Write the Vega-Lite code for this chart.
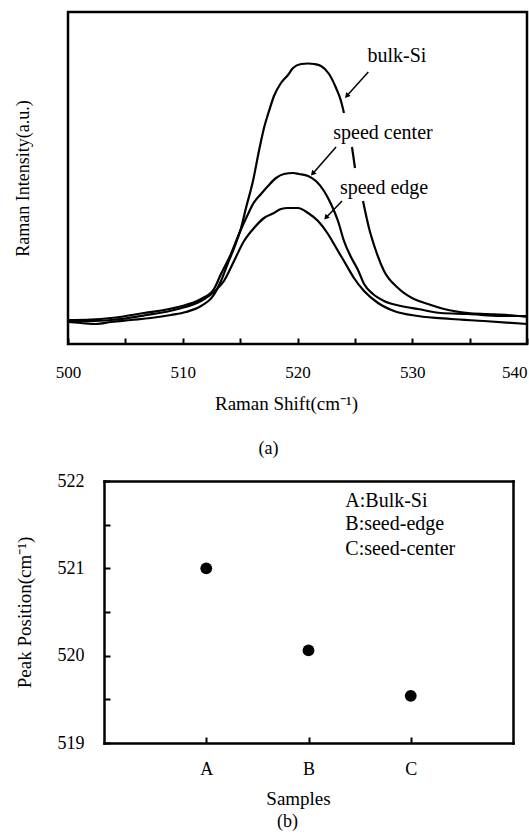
{
  "$schema": "https://vega.github.io/schema/vega-lite/v6.json",
  "padding": {"left": 12, "top": 10, "right": 0, "bottom": 0},
  "background": "white",
  "spacing": 12,
  "datasets": {
    "spectra": [
      {"seg": "bulk1", "shift": 500.0, "intensity": 22},
      {"seg": "bulk1", "shift": 501.13, "intensity": 21},
      {"seg": "bulk1", "shift": 502.44, "intensity": 20},
      {"seg": "bulk1", "shift": 503.75, "intensity": 22},
      {"seg": "bulk1", "shift": 505.49, "intensity": 24},
      {"seg": "bulk1", "shift": 507.23, "intensity": 26},
      {"seg": "bulk1", "shift": 508.98, "intensity": 29},
      {"seg": "bulk1", "shift": 510.28, "intensity": 32},
      {"seg": "bulk1", "shift": 511.59, "intensity": 38},
      {"seg": "bulk1", "shift": 512.64, "intensity": 48},
      {"seg": "bulk1", "shift": 513.33, "intensity": 63},
      {"seg": "bulk1", "shift": 513.94, "intensity": 81},
      {"seg": "bulk1", "shift": 514.47, "intensity": 96},
      {"seg": "bulk1", "shift": 515.08, "intensity": 116},
      {"seg": "bulk1", "shift": 515.51, "intensity": 136},
      {"seg": "bulk1", "shift": 516.12, "intensity": 163},
      {"seg": "bulk1", "shift": 516.64, "intensity": 193},
      {"seg": "bulk1", "shift": 517.08, "intensity": 216},
      {"seg": "bulk1", "shift": 517.52, "intensity": 233},
      {"seg": "bulk1", "shift": 517.95, "intensity": 248},
      {"seg": "bulk1", "shift": 518.56, "intensity": 261},
      {"seg": "bulk1", "shift": 519.17, "intensity": 269},
      {"seg": "bulk1", "shift": 519.61, "intensity": 276},
      {"seg": "bulk1", "shift": 520.31, "intensity": 280},
      {"seg": "bulk1", "shift": 520.92, "intensity": 280.5},
      {"seg": "bulk1", "shift": 521.44, "intensity": 280},
      {"seg": "bulk1", "shift": 522.05, "intensity": 278},
      {"seg": "bulk1", "shift": 522.75, "intensity": 270},
      {"seg": "bulk1", "shift": 523.36, "intensity": 256},
      {"seg": "bulk1", "shift": 523.79, "intensity": 243},
      {"seg": "bulk1", "shift": 524.05, "intensity": 231},
      {"seg": "bulk2", "shift": 524.75, "intensity": 197},
      {"seg": "bulk2", "shift": 525.01, "intensity": 176},
      {"seg": "bulk3", "shift": 525.71, "intensity": 143},
      {"seg": "bulk3", "shift": 526.23, "intensity": 116},
      {"seg": "bulk3", "shift": 526.84, "intensity": 93},
      {"seg": "bulk3", "shift": 527.54, "intensity": 73},
      {"seg": "bulk3", "shift": 528.76, "intensity": 56},
      {"seg": "bulk3", "shift": 530.15, "intensity": 45},
      {"seg": "bulk3", "shift": 531.37, "intensity": 40},
      {"seg": "bulk3", "shift": 532.77, "intensity": 35},
      {"seg": "bulk3", "shift": 534.86, "intensity": 31},
      {"seg": "bulk3", "shift": 536.6, "intensity": 30},
      {"seg": "bulk3", "shift": 538.34, "intensity": 29},
      {"seg": "bulk3", "shift": 540.0, "intensity": 27},
      {"seg": "center", "shift": 500.0, "intensity": 24},
      {"seg": "center", "shift": 502.0, "intensity": 24.5},
      {"seg": "center", "shift": 503.75, "intensity": 26},
      {"seg": "center", "shift": 506.62, "intensity": 31},
      {"seg": "center", "shift": 509.59, "intensity": 37},
      {"seg": "center", "shift": 511.59, "intensity": 45},
      {"seg": "center", "shift": 512.72, "intensity": 55},
      {"seg": "center", "shift": 513.33, "intensity": 70},
      {"seg": "center", "shift": 514.2, "intensity": 90},
      {"seg": "center", "shift": 514.9, "intensity": 110},
      {"seg": "center", "shift": 515.69, "intensity": 130},
      {"seg": "center", "shift": 516.12, "intensity": 140},
      {"seg": "center", "shift": 516.82, "intensity": 150},
      {"seg": "center", "shift": 517.43, "intensity": 158},
      {"seg": "center", "shift": 518.13, "intensity": 166},
      {"seg": "center", "shift": 518.82, "intensity": 170},
      {"seg": "center", "shift": 519.61, "intensity": 171},
      {"seg": "center", "shift": 520.13, "intensity": 170},
      {"seg": "center", "shift": 520.92, "intensity": 168},
      {"seg": "center", "shift": 521.61, "intensity": 163},
      {"seg": "center", "shift": 522.31, "intensity": 153},
      {"seg": "center", "shift": 522.92, "intensity": 140},
      {"seg": "center", "shift": 523.53, "intensity": 123},
      {"seg": "center", "shift": 524.05, "intensity": 103},
      {"seg": "center", "shift": 524.66, "intensity": 87},
      {"seg": "center", "shift": 525.27, "intensity": 74},
      {"seg": "center", "shift": 525.8, "intensity": 60},
      {"seg": "center", "shift": 526.58, "intensity": 50},
      {"seg": "center", "shift": 527.54, "intensity": 43},
      {"seg": "center", "shift": 529.02, "intensity": 38},
      {"seg": "center", "shift": 530.5, "intensity": 35},
      {"seg": "center", "shift": 532.51, "intensity": 31},
      {"seg": "center", "shift": 534.86, "intensity": 30},
      {"seg": "center", "shift": 537.73, "intensity": 28},
      {"seg": "center", "shift": 540.0, "intensity": 28},
      {"seg": "edge", "shift": 500.0, "intensity": 23},
      {"seg": "edge", "shift": 502.0, "intensity": 23},
      {"seg": "edge", "shift": 503.75, "intensity": 24},
      {"seg": "edge", "shift": 506.62, "intensity": 28.5},
      {"seg": "edge", "shift": 509.59, "intensity": 35},
      {"seg": "edge", "shift": 511.59, "intensity": 43},
      {"seg": "edge", "shift": 512.72, "intensity": 52},
      {"seg": "edge", "shift": 513.59, "intensity": 63},
      {"seg": "edge", "shift": 514.47, "intensity": 83},
      {"seg": "edge", "shift": 515.34, "intensity": 103},
      {"seg": "edge", "shift": 516.21, "intensity": 116},
      {"seg": "edge", "shift": 517.08, "intensity": 126},
      {"seg": "edge", "shift": 517.95, "intensity": 131},
      {"seg": "edge", "shift": 518.56, "intensity": 135},
      {"seg": "edge", "shift": 519.17, "intensity": 136},
      {"seg": "edge", "shift": 520.04, "intensity": 136},
      {"seg": "edge", "shift": 520.92, "intensity": 131},
      {"seg": "edge", "shift": 521.79, "intensity": 123},
      {"seg": "edge", "shift": 522.66, "intensity": 110},
      {"seg": "edge", "shift": 523.18, "intensity": 100},
      {"seg": "edge", "shift": 523.53, "intensity": 93},
      {"seg": "edge", "shift": 524.05, "intensity": 83},
      {"seg": "edge", "shift": 524.4, "intensity": 76},
      {"seg": "edge", "shift": 524.92, "intensity": 66},
      {"seg": "edge", "shift": 525.8, "intensity": 53},
      {"seg": "edge", "shift": 527.02, "intensity": 41},
      {"seg": "edge", "shift": 528.41, "intensity": 33},
      {"seg": "edge", "shift": 530.5, "intensity": 28},
      {"seg": "edge", "shift": 533.38, "intensity": 25},
      {"seg": "edge", "shift": 536.25, "intensity": 23},
      {"seg": "edge", "shift": 540.0, "intensity": 20}
    ],
    "arrows": [
      {"label": "bulk-Si", "x0": 526.17, "y0": 272, "x1": 524.29, "y1": 248},
      {"label": "speed center", "x0": 523.36, "y0": 197, "x1": 521.32, "y1": 170.3},
      {"label": "speed edge", "x0": 523.88, "y0": 143, "x1": 522.48, "y1": 126.3}
    ],
    "labels": [
      {"label": "bulk-Si", "shift": 528.67, "intensity": 282},
      {"label": "speed center", "shift": 527.45, "intensity": 205},
      {"label": "speed edge", "shift": 527.54, "intensity": 150}
    ],
    "peaks": [
      {"sample": "A", "pos": 1, "peak": 521.0},
      {"sample": "B", "pos": 2, "peak": 520.06},
      {"sample": "C", "pos": 3, "peak": 519.54}
    ],
    "key": [
      {"label": "A:Bulk-Si", "pos": 2.36, "peak": 521.70},
      {"label": "B:seed-edge", "pos": 2.36, "peak": 521.44},
      {"label": "C:seed-center", "pos": 2.36, "peak": 521.15}
    ]
  },
  "vconcat": [
    {
      "width": 459,
      "height": 332,
      "title": {"text": "(a)", "orient": "bottom", "anchor": "middle", "dx": -29, "offset": 27, "fontSize": 18, "fontWeight": "normal", "font": "Liberation Serif", "color": "black"},
      "layer": [
        {
          "data": {"name": "spectra"},
          "mark": {"type": "line", "color": "black", "strokeWidth": 2.2, "interpolate": "monotone"},
          "encoding": {
            "x": {"field": "shift", "type": "quantitative", "scale": {"domain": [500, 540], "nice": false, "zero": false},
              "axis": {"values": [500, 505, 510, 515, 520, 525, 530, 535, 540], "labelExpr": "datum.value % 10 === 0 ? datum.label : ''", "format": "d", "tickSize": -6, "labelPadding": 26, "labelFontSize": 17, "labelOverlap": false, "labelFlush": false,
                "labelAlign": {"condition": {"test": "datum.value === 540", "value": "right"}, "value": "center"},
                "title": "Raman Shift(cm⁻¹)", "titleFontSize": 19, "titlePadding": 14, "titleX": 218}},
            "y": {"field": "intensity", "type": "quantitative", "scale": {"domain": [0, 332], "nice": false, "zero": false},
              "axis": {"labels": false, "ticks": false, "title": "Raman Intensity(a.u.)", "titleFontSize": 18, "titlePadding": 36}},
            "detail": {"field": "seg"}
          }
        },
        {
          "data": {"name": "arrows"},
          "mark": {"type": "rule", "color": "black", "strokeWidth": 1.5},
          "encoding": {
            "x": {"field": "x0", "type": "quantitative"},
            "y": {"field": "y0", "type": "quantitative"},
            "x2": {"field": "x1"},
            "y2": {"field": "y1"}
          }
        },
        {
          "data": {"name": "arrows"},
          "mark": {"type": "point", "shape": "triangle-up", "filled": true, "color": "black", "opacity": 1, "size": 35, "angle": 222},
          "encoding": {
            "x": {"field": "x1", "type": "quantitative"},
            "y": {"field": "y1", "type": "quantitative"}
          }
        },
        {
          "data": {"name": "labels"},
          "mark": {"type": "text", "font": "Liberation Serif", "fontSize": 20, "align": "center", "baseline": "alphabetic", "color": "black"},
          "encoding": {
            "x": {"field": "shift", "type": "quantitative"},
            "y": {"field": "intensity", "type": "quantitative"},
            "text": {"field": "label"}
          }
        }
      ]
    },
    {
      "width": 445,
      "height": 262,
      "view": {"stroke": null},
      "title": {"text": "(b)", "orient": "bottom", "anchor": "middle", "dx": -3, "offset": 5, "fontSize": 18, "fontWeight": "normal", "font": "Liberation Serif", "color": "black"},
      "resolve": {"axis": {"x": "independent", "y": "independent"}},
      "layer": [
        {
          "data": {"name": "peaks"},
          "mark": {"type": "point", "filled": true, "color": "black", "opacity": 1, "size": 140},
          "encoding": {
            "x": {"field": "pos", "type": "quantitative", "scale": {"domain": [0, 4], "range": [36, 445], "nice": false, "zero": false},
              "axis": {"orient": "bottom", "domain": true, "domainColor": "black", "domainWidth": 2.5, "domainCap": "square", "values": [1, 2, 3], "labelExpr": "['', 'A', 'B', 'C'][datum.value]", "tickSize": -6, "labelPadding": 23, "labelFontSize": 18, "title": "Samples", "titleFontSize": 19, "titlePadding": 11, "titleX": 230}},
            "y": {"field": "peak", "type": "quantitative", "scale": {"domain": [519, 522], "nice": false, "zero": false},
              "axis": {"orient": "left", "offset": -36, "domain": true, "domainColor": "black", "domainWidth": 2.5, "domainCap": "square", "values": [519, 519.5, 520, 520.5, 521, 521.5, 522], "labelExpr": "datum.value % 1 === 0 ? format(datum.value, 'd') : ''", "tickSize": -6, "labelPadding": 26, "labelFontSize": 18, "title": "Peak Position(cm⁻¹)", "titleFontSize": 19, "titlePadding": 23}}
          }
        },
        {
          "data": {"name": "key"},
          "mark": {"type": "text", "font": "Liberation Serif", "fontSize": 20, "align": "left", "baseline": "alphabetic", "color": "black"},
          "encoding": {
            "x": {"field": "pos", "type": "quantitative",
              "axis": {"orient": "top", "domain": true, "domainColor": "black", "domainWidth": 2.5, "domainCap": "square", "labels": false, "ticks": false, "title": null}},
            "y": {"field": "peak", "type": "quantitative",
              "axis": {"orient": "right", "domain": true, "domainColor": "black", "domainWidth": 2.5, "domainCap": "square", "labels": false, "ticks": false, "title": null}},
            "text": {"field": "label"}
          }
        }
      ]
    }
  ],
  "config": {
    "font": "Liberation Serif",
    "view": {"stroke": "black", "strokeWidth": 2.5},
    "axis": {"grid": false, "domain": false, "tickColor": "black", "tickWidth": 2, "labelColor": "black", "titleColor": "black", "labelFont": "Liberation Serif", "titleFont": "Liberation Serif", "titleFontWeight": "normal"}
  }
}
